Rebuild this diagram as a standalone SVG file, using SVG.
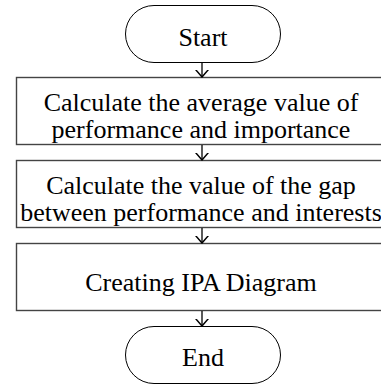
<svg xmlns="http://www.w3.org/2000/svg" width="381" height="385" viewBox="0 0 381 385">
<style>
.term{fill:#fff;stroke:#000;stroke-width:1}
.box{fill:#fff;stroke:#444;stroke-width:1.4}
.t{font-family:"Liberation Serif","Times New Roman",serif;font-size:26px;fill:#000;text-anchor:middle}
.c{stroke:#000;stroke-width:1.3;fill:none}
</style>
<defs>
<marker id="ah" viewBox="0 0 8 14" refX="7.5" refY="7" markerWidth="8" markerHeight="14" markerUnits="userSpaceOnUse" orient="auto">
<path d="M0,0.5 L7.5,7 L0,13.5" fill="none" stroke="#000" stroke-width="1.5"/>
</marker>
</defs>
<g id="start"><rect class="term" x="125.5" y="5.5" width="155" height="57" rx="28.5"/><text class="t" x="203" y="46">Start</text></g>
<g id="step1"><rect class="box" x="16.5" y="77.5" width="380" height="67"/><text class="t" x="201" y="111">Calculate the average value of</text><text class="t" x="201" y="138">performance and importance</text></g>
<g id="step2"><rect class="box" x="16.5" y="160.5" width="380" height="67"/><text class="t" x="201" y="194">Calculate the value of the gap</text><text class="t" x="201" y="221">between performance and interests</text></g>
<g id="step3"><rect class="box" x="16.5" y="243.5" width="380" height="67"/><text class="t" x="201" y="291">Creating IPA Diagram</text></g>
<g id="end"><rect class="term" x="125.5" y="326.5" width="155" height="57" rx="28.5"/><text class="t" x="203" y="366">End</text></g>
<g id="connectors">
<line class="c" x1="202" y1="63" x2="202" y2="77" marker-end="url(#ah)"/>
<line class="c" x1="202" y1="145" x2="202" y2="160" marker-end="url(#ah)"/>
<line class="c" x1="202" y1="228" x2="202" y2="243" marker-end="url(#ah)"/>
<line class="c" x1="202" y1="311" x2="202" y2="326" marker-end="url(#ah)"/>
</g>
</svg>
